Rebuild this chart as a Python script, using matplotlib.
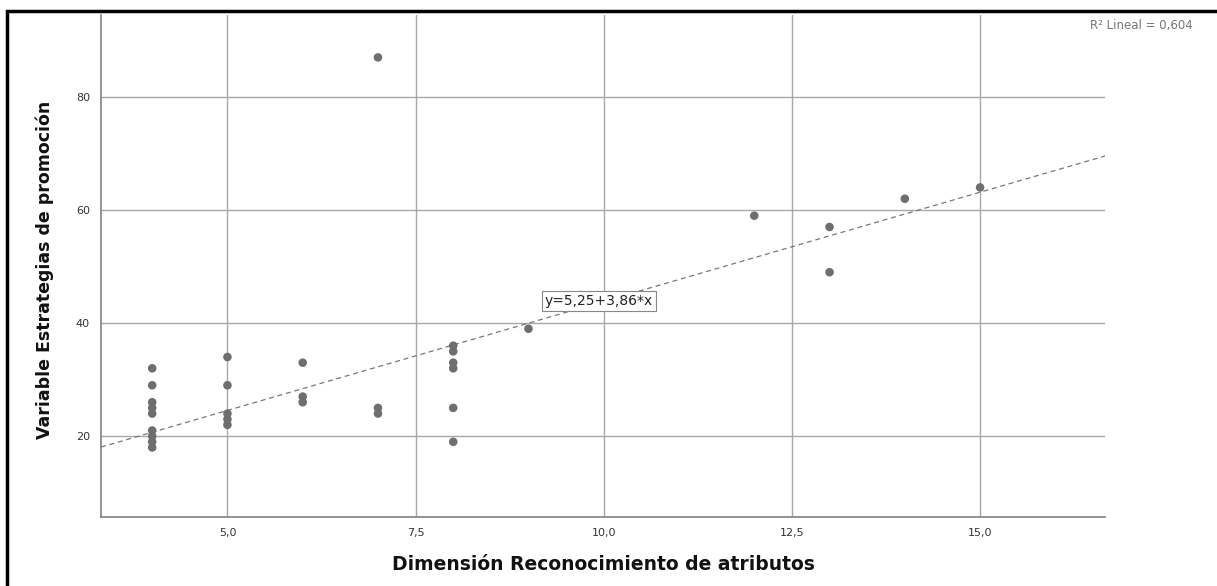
import matplotlib
matplotlib.use("Agg")
import matplotlib.pyplot as plt
from matplotlib.patches import Rectangle
import numpy as np

# Data
x_vals = [4, 4, 4, 4, 4, 4, 4, 4, 4,
          5, 5, 5, 5, 5,
          6, 6, 6,
          7, 7, 7,
          8, 8, 8, 8, 8, 8,
          9,
          12, 13, 13, 14, 15]
y_vals = [32, 29, 26, 25, 24, 21, 20, 19, 18,
          34, 29, 24, 23, 22,
          33, 27, 26,
          25, 24, 87,
          36, 35, 33, 32, 25, 19,
          39,
          59, 57, 49, 62, 64]
fit_intercept = 5.25
fit_slope = 3.86
x_ticks = [5.0, 7.5, 10.0, 12.5, 15.0]
x_tick_labels = ["5,0", "7,5", "10,0", "12,5", "15,0"]
y_ticks = [20, 40, 60, 80]
y_tick_labels = ["20", "40", "60", "80"]
eq_label = "y=5,25+3,86*x"
r2_label = "R² Lineal = 0,604"
x_label = "Dimensión Reconocimiento de atributos"
y_label = "Variable Estrategias de promoción"

W, H = 1217, 586
fig = plt.figure(figsize=(W / 100, H / 100), dpi=100)
ax = fig.add_axes([101 / W, 1 - 517 / H, (1105 - 101) / W, (517 - 15) / H])

xmin, xmax = 3.32, 16.66
ymin, ymax = 5.7, 94.5
ax.set_xlim(xmin, xmax)
ax.set_ylim(ymin, ymax)

ax.set_xticks(x_ticks)
ax.set_xticklabels(x_tick_labels)
ax.set_yticks(y_ticks)
ax.set_yticklabels(y_tick_labels)
ax.tick_params(length=0, labelsize=8, colors="#333333", pad=8)
ax.grid(True, color="#a8a8a8", linewidth=1.0)
ax.set_axisbelow(True)
for s in ["top", "right"]:
    ax.spines[s].set_visible(False)
for s in ["left", "bottom"]:
    ax.spines[s].set_color("#808080")
    ax.spines[s].set_linewidth(1.2)

# fit line
xl = np.array([xmin, xmax])
ax.plot(xl, fit_intercept + fit_slope * xl, linestyle=(0, (4, 3)), color="#777777", linewidth=0.9, zorder=2)

ax.scatter(x_vals, y_vals, s=38, color="#6e6e6e", edgecolors="none", zorder=3)

ax.text(9.22, 43.9, eq_label, fontsize=10, color="#222222", va="center", ha="left",
        bbox=dict(boxstyle="square,pad=0.22", facecolor="white", edgecolor="#888888", linewidth=0.8), zorder=4)

fig.text(1090 / W, 1 - 25 / H, r2_label, fontsize=8.5, color="#777777", ha="left", va="center")

ax.set_xlabel(x_label, fontsize=13.5, fontweight="bold", color="#111111")
ax.xaxis.set_label_coords(0.5, -(565 - 517) / (517 - 15), transform=ax.transAxes)
ax.xaxis.label.set_va("center")
ax.set_ylabel(y_label, fontsize=12.5, fontweight="bold", color="#111111")
ax.yaxis.set_label_coords(-(101 - 45) / (1105 - 101), (517 - 270) / (517 - 15), transform=ax.transAxes)
ax.yaxis.label.set_va("center")

# outer black frame
fig.patches.append(Rectangle((6.5 / W, -0.1), 1.2, 1 - 11 / H + 0.1, transform=fig.transFigure,
                             fill=False, edgecolor="black", linewidth=2.5))

fig.savefig("out.png", dpi=100)
